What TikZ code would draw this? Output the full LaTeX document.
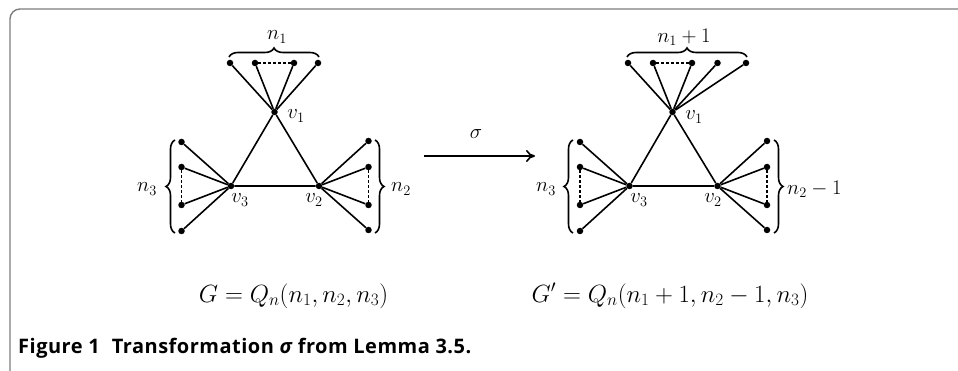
\documentclass[tikz,border=0pt]{standalone}
\usepackage{fontspec}
\newfontfamily\capfont[LetterSpace=2.5]{Open Sans}
\newfontfamily\sigfont{Open Sans}
\usetikzlibrary{arrows.meta,decorations.pathreplacing}
\definecolor{framegray}{RGB}{125,125,125}
\begin{document}
\begin{tikzpicture}[x=1pt,y=-1pt,
  edge/.style={line width=1.6pt},
  dot/.style={circle,fill,inner sep=0pt,minimum size=6.5pt},
  dsh/.style={line width=1.2pt,dash pattern=on 3pt off 2pt},
  brc/.style={decorate,decoration={brace,amplitude=9pt},line width=1.6pt},
  lbl/.style={font=\fontsize{21}{25}\selectfont,inner sep=0pt},
  formula/.style={font=\fontsize{23}{27}\selectfont,inner sep=0pt}]
\clip (0,0) rectangle (958,371);
% frame
\draw[framegray,line width=1.4pt,rounded corners=10pt] (10,390) -- (10,9) -- (980,9);

% ---------- left graph ----------
\node[dot] (a1) at (274.5,112) {};
\node[dot] (a3) at (231,186) {};
\node[dot] (a2) at (319,186) {};
\node[dot] (at1) at (230,63) {};
\node[dot] (at2) at (255,63) {};
\node[dot] (at3) at (294,63) {};
\node[dot] (at4) at (318,63) {};
\node[dot] (al1) at (181.5,142) {};
\node[dot] (al2) at (181.5,167) {};
\node[dot] (al3) at (181.5,205) {};
\node[dot] (al4) at (181.5,231) {};
\node[dot] (ar1) at (368.5,141) {};
\node[dot] (ar2) at (368.5,167) {};
\node[dot] (ar3) at (368.5,205) {};
\node[dot] (ar4) at (368.5,230) {};
\draw[edge] (a1) -- (a2) -- (a3) -- (a1);
\foreach \t in {at1,at2,at3,at4} \draw[edge] (a1) -- (\t);
\foreach \t in {al1,al2,al3,al4} \draw[edge] (a3) -- (\t);
\foreach \t in {ar1,ar2,ar3,ar4} \draw[edge] (a2) -- (\t);
\draw[dsh] (at2) -- (at3);
\draw[dsh] (al2) -- (al3);
\draw[dsh] (ar2) -- (ar3);
\node[lbl] (la1) at (296,116) {$v_1$};
\node[lbl] (la3) at (240,200) {$v_3$};
\node[lbl] (la2) at (314,200) {$v_2$};
\coordinate (bta) at (229,57); \coordinate (btb) at (319,57);
\draw[brc] (bta) -- (btb);
\node[lbl] (ln1) at (277,37) {$n_1$};
\coordinate (bla) at (175,233); \coordinate (blb) at (175,140);
\draw[brc] (bla) -- (blb);
\node[lbl] (ln3) at (147,189) {$n_3$};
\coordinate (bra) at (375,140); \coordinate (brb) at (375,233);
\draw[brc] (bra) -- (brb);
\node[lbl] (ln2) at (401,189) {$n_2$};

% ---------- arrow ----------
\coordinate (s1) at (424,156); \coordinate (s2) at (535,156);
\draw[line width=1.4pt,-{To[length=9pt,width=12pt,line width=1.6pt]}] (s1) -- (s2);
\node[lbl] (sig) at (476,134) {$\sigma$};

% ---------- right graph ----------
\node[dot] (b1) at (672.5,112) {};
\node[dot] (b3) at (629.5,186) {};
\node[dot] (b2) at (717.5,186) {};
\node[dot] (bt1) at (628,63) {};
\node[dot] (bt2) at (653,63) {};
\node[dot] (bt3) at (692,63) {};
\node[dot] (bt4) at (717.5,63) {};
\node[dot] (bt5) at (746,63) {};
\node[dot] (bl1) at (580,142) {};
\node[dot] (bl2) at (580,167) {};
\node[dot] (bl3) at (580,205) {};
\node[dot] (bl4) at (580,231) {};
\node[dot] (br1) at (767,141) {};
\node[dot] (br2) at (767,167) {};
\node[dot] (br3) at (767,205) {};
\node[dot] (br4) at (767,230) {};
\draw[edge] (b1) -- (b2) -- (b3) -- (b1);
\foreach \t in {bt1,bt2,bt3,bt4,bt5} \draw[edge] (b1) -- (\t);
\foreach \t in {bl1,bl2,bl3,bl4} \draw[edge] (b3) -- (\t);
\foreach \t in {br1,br2,br3,br4} \draw[edge] (b2) -- (\t);
\draw[dsh] (bt2) -- (bt3);
\draw[dsh] (bl2) -- (bl3);
\draw[dsh] (br2) -- (br3);
\node[lbl] (lb1) at (694,117) {$v_1$};
\node[lbl] (lb3) at (639,200) {$v_3$};
\node[lbl] (lb2) at (713,200) {$v_2$};
\coordinate (ctA) at (627,57); \coordinate (ctB) at (747,57);
\draw[brc] (ctA) -- (ctB);
\node[lbl] (lm1) at (684,37) {$n_1+1$};
\coordinate (clA) at (573,233); \coordinate (clB) at (573,140);
\draw[brc] (clA) -- (clB);
\node[lbl] (lm3) at (546,189) {$n_3$};
\coordinate (crA) at (774,140); \coordinate (crB) at (774,233);
\draw[brc] (crA) -- (crB);
\node[lbl,anchor=west] (lm2) at (787,189) {$n_2-1$};

% ---------- formulas ----------
\node[formula,anchor=base] (f1) at (293.5,302) {$G=Q_n(n_1,n_2,n_3)$};
\node[formula,anchor=base] (f2) at (670,302) {$G'=Q_n(n_1+1,n_2-1,n_3)$};

% ---------- caption ----------
\node[anchor=base west,inner sep=0pt,font=\capfont\bfseries\fontsize{20}{24}\selectfont] (cap) at (18,353)
  {Figure 1\hspace{0.6em}Transformation {\sigfont\itshape\bfseries σ} from Lemma 3.5.};
\end{tikzpicture}
\end{document}
